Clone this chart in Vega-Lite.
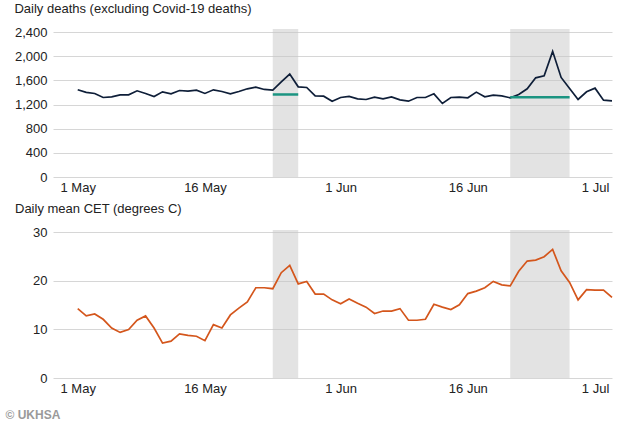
{
  "$schema": "https://vega.github.io/schema/vega-lite/v6.json",
  "background": "white",
  "padding": {"left": 5, "top": 3, "right": 5, "bottom": 0},
  "config": {
    "font": "Liberation Sans",
    "view": {"stroke": null},
    "axis": {"labelFont": "Liberation Sans", "labelFontSize": 13, "labelColor": "#222222", "title": null, "ticks": false, "domain": false},
    "title": {"font": "Liberation Sans", "fontSize": 13, "fontWeight": "normal", "color": "#222222", "anchor": "start", "frame": "bounds"}
  },
  "datasets": {
    "daily": [
      {"date": "2017-05-01T00:00", "deaths": 1445, "cet": 14.3},
      {"date": "2017-05-02T00:00", "deaths": 1400, "cet": 12.8},
      {"date": "2017-05-03T00:00", "deaths": 1383, "cet": 13.2},
      {"date": "2017-05-04T00:00", "deaths": 1316, "cet": 12.1},
      {"date": "2017-05-05T00:00", "deaths": 1327, "cet": 10.3},
      {"date": "2017-05-06T00:00", "deaths": 1360, "cet": 9.4},
      {"date": "2017-05-07T00:00", "deaths": 1360, "cet": 10.0},
      {"date": "2017-05-08T00:00", "deaths": 1427, "cet": 11.9},
      {"date": "2017-05-09T00:00", "deaths": 1383, "cet": 12.8},
      {"date": "2017-05-10T00:00", "deaths": 1333, "cet": 10.3},
      {"date": "2017-05-11T00:00", "deaths": 1410, "cet": 7.2},
      {"date": "2017-05-12T00:00", "deaths": 1377, "cet": 7.6},
      {"date": "2017-05-13T00:00", "deaths": 1432, "cet": 9.1},
      {"date": "2017-05-14T00:00", "deaths": 1421, "cet": 8.8},
      {"date": "2017-05-15T00:00", "deaths": 1438, "cet": 8.6},
      {"date": "2017-05-16T00:00", "deaths": 1383, "cet": 7.7},
      {"date": "2017-05-17T00:00", "deaths": 1443, "cet": 11.0},
      {"date": "2017-05-18T00:00", "deaths": 1416, "cet": 10.3},
      {"date": "2017-05-19T00:00", "deaths": 1377, "cet": 13.0},
      {"date": "2017-05-20T00:00", "deaths": 1416, "cet": 14.4},
      {"date": "2017-05-21T00:00", "deaths": 1460, "cet": 15.7},
      {"date": "2017-05-22T00:00", "deaths": 1488, "cet": 18.6},
      {"date": "2017-05-23T00:00", "deaths": 1449, "cet": 18.6},
      {"date": "2017-05-24T00:00", "deaths": 1438, "cet": 18.4},
      {"date": "2017-05-25T00:00", "deaths": 1576, "cet": 21.7},
      {"date": "2017-05-26T00:00", "deaths": 1703, "cet": 23.2},
      {"date": "2017-05-27T00:00", "deaths": 1493, "cet": 19.4},
      {"date": "2017-05-28T00:00", "deaths": 1482, "cet": 19.9},
      {"date": "2017-05-29T00:00", "deaths": 1344, "cet": 17.3},
      {"date": "2017-05-30T00:00", "deaths": 1338, "cet": 17.3},
      {"date": "2017-05-31T00:00", "deaths": 1255, "cet": 16.1},
      {"date": "2017-06-01T00:00", "deaths": 1316, "cet": 15.3},
      {"date": "2017-06-02T00:00", "deaths": 1333, "cet": 16.3},
      {"date": "2017-06-03T00:00", "deaths": 1294, "cet": 15.4},
      {"date": "2017-06-04T00:00", "deaths": 1283, "cet": 14.6},
      {"date": "2017-06-05T00:00", "deaths": 1322, "cet": 13.3},
      {"date": "2017-06-06T00:00", "deaths": 1294, "cet": 13.8},
      {"date": "2017-06-07T00:00", "deaths": 1327, "cet": 13.8},
      {"date": "2017-06-08T00:00", "deaths": 1277, "cet": 14.3},
      {"date": "2017-06-09T00:00", "deaths": 1255, "cet": 11.9},
      {"date": "2017-06-10T00:00", "deaths": 1316, "cet": 11.9},
      {"date": "2017-06-11T00:00", "deaths": 1316, "cet": 12.1},
      {"date": "2017-06-12T00:00", "deaths": 1377, "cet": 15.2},
      {"date": "2017-06-13T00:00", "deaths": 1217, "cet": 14.6},
      {"date": "2017-06-14T00:00", "deaths": 1316, "cet": 14.1},
      {"date": "2017-06-15T00:00", "deaths": 1322, "cet": 15.1},
      {"date": "2017-06-16T00:00", "deaths": 1311, "cet": 17.4},
      {"date": "2017-06-17T00:00", "deaths": 1405, "cet": 17.9},
      {"date": "2017-06-18T00:00", "deaths": 1327, "cet": 18.6},
      {"date": "2017-06-19T00:00", "deaths": 1355, "cet": 19.9},
      {"date": "2017-06-20T00:00", "deaths": 1344, "cet": 19.2},
      {"date": "2017-06-21T00:00", "deaths": 1311, "cet": 19.0},
      {"date": "2017-06-22T00:00", "deaths": 1366, "cet": 22.0},
      {"date": "2017-06-23T00:00", "deaths": 1460, "cet": 24.1},
      {"date": "2017-06-24T00:00", "deaths": 1642, "cet": 24.3},
      {"date": "2017-06-25T00:00", "deaths": 1676, "cet": 25.0},
      {"date": "2017-06-26T00:00", "deaths": 2080, "cet": 26.5},
      {"date": "2017-06-27T00:00", "deaths": 1648, "cet": 22.1},
      {"date": "2017-06-28T00:00", "deaths": 1465, "cet": 19.7},
      {"date": "2017-06-29T00:00", "deaths": 1283, "cet": 16.1},
      {"date": "2017-06-30T00:00", "deaths": 1410, "cet": 18.2},
      {"date": "2017-07-01T00:00", "deaths": 1471, "cet": 18.1},
      {"date": "2017-07-02T00:00", "deaths": 1272, "cet": 18.1},
      {"date": "2017-07-03T00:00", "deaths": 1261, "cet": 16.6}
    ],
    "periods": [
      {"start": "2017-05-24T00:00", "end": "2017-05-27T00:00", "baseline": 1366},
      {"start": "2017-06-21T00:00", "end": "2017-06-28T00:00", "baseline": 1322}
    ]
  },
  "title": {"text": "© UKHSA", "orient": "bottom", "anchor": "start", "frame": "bounds", "fontSize": 12, "fontWeight": "bold", "color": "#9a9a9a", "offset": 15, "dx": -9},
  "spacing": 9,
  "vconcat": [
    {
      "width": 559,
      "height": 148,
      "title": {"text": "Daily deaths (excluding Covid-19 deaths)", "offset": 10},
      "encoding": {
        "x": {
          "field": "date",
          "type": "temporal",
          "scale": {"domain": [{"year": 2017, "month": "apr", "date": 28, "hours": 2}, {"year": 2017, "month": "jul", "date": 3}]},
          "axis": {
            "grid": false,
            "format": "%-d %b",
            "labelPadding": 4,
            "values": [
              {"year": 2017, "month": "may", "date": 1},
              {"year": 2017, "month": "may", "date": 16},
              {"year": 2017, "month": "jun", "date": 1},
              {"year": 2017, "month": "jun", "date": 16},
              {"year": 2017, "month": "jul", "date": 1}
            ]
          }
        },
        "y": {
          "type": "quantitative",
          "scale": {"domain": [0, 2450], "nice": false},
          "axis": {
            "values": [0, 400, 800, 1200, 1600, 2000, 2400],
            "format": ",.0f",
            "grid": true,
            "gridColor": "#d6d6d6",
            "labelPadding": 6,
            "labelOverlap": false,
            "minExtent": 38,
            "maxExtent": 38
          }
        }
      },
      "layer": [
        {
          "data": {"name": "periods"},
          "mark": {"type": "rect", "color": "#c4c4c4", "opacity": 0.48},
          "encoding": {
            "x": {"field": "start", "type": "temporal"},
            "x2": {"field": "end"},
            "y": null
          }
        },
        {
          "data": {"name": "daily"},
          "mark": {"type": "line", "color": "#0e1e38", "strokeWidth": 1.7},
          "encoding": {
            "y": {"field": "deaths", "type": "quantitative"}
          }
        },
        {
          "data": {"name": "periods"},
          "mark": {"type": "rule", "color": "#1b9481", "strokeWidth": 2.5},
          "encoding": {
            "x": {"field": "start", "type": "temporal"},
            "x2": {"field": "end"},
            "y": {"field": "baseline", "type": "quantitative"}
          }
        }
      ]
    },
    {
      "width": 559,
      "height": 148,
      "title": {"text": "Daily mean CET (degrees C)", "offset": 10},
      "encoding": {
        "x": {
          "field": "date",
          "type": "temporal",
          "scale": {"domain": [{"year": 2017, "month": "apr", "date": 28, "hours": 2}, {"year": 2017, "month": "jul", "date": 3}]},
          "axis": {
            "grid": false,
            "format": "%-d %b",
            "labelPadding": 4,
            "values": [
              {"year": 2017, "month": "may", "date": 1},
              {"year": 2017, "month": "may", "date": 16},
              {"year": 2017, "month": "jun", "date": 1},
              {"year": 2017, "month": "jun", "date": 16},
              {"year": 2017, "month": "jul", "date": 1}
            ]
          }
        },
        "y": {
          "type": "quantitative",
          "scale": {"domain": [0, 30.5], "nice": false},
          "axis": {
            "values": [0, 10, 20, 30],
            "grid": true,
            "gridColor": "#d6d6d6",
            "labelPadding": 6,
            "labelOverlap": false,
            "minExtent": 38,
            "maxExtent": 38
          }
        }
      },
      "layer": [
        {
          "data": {"name": "periods"},
          "mark": {"type": "rect", "color": "#c4c4c4", "opacity": 0.48},
          "encoding": {
            "x": {"field": "start", "type": "temporal"},
            "x2": {"field": "end"},
            "y": null
          }
        },
        {
          "data": {"name": "daily"},
          "mark": {"type": "line", "color": "#d4561c", "strokeWidth": 1.7},
          "encoding": {
            "y": {"field": "cet", "type": "quantitative"}
          }
        }
      ]
    }
  ]
}
